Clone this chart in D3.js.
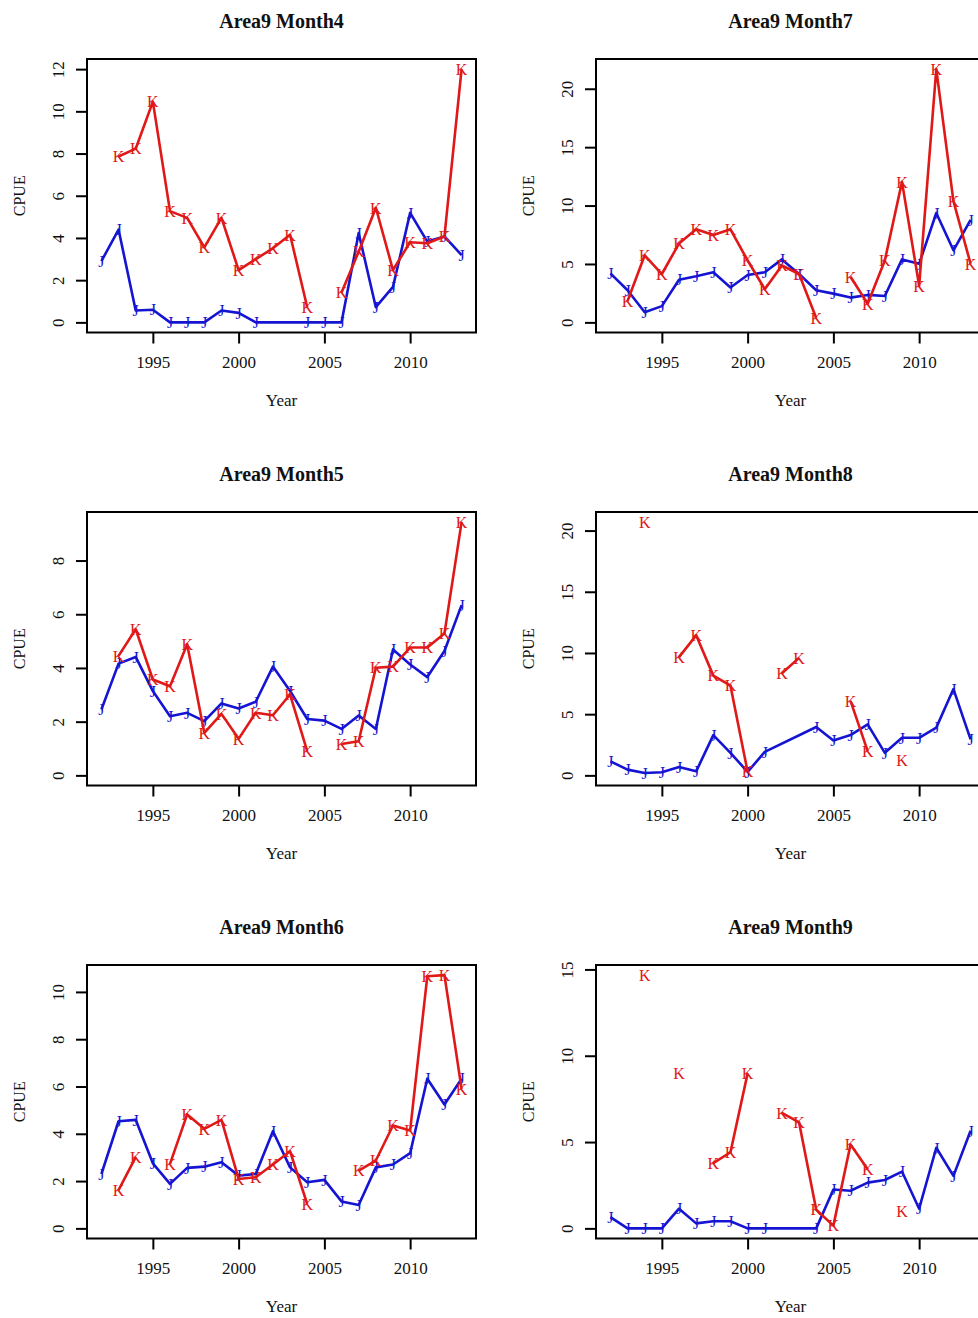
<!DOCTYPE html>
<html lang="en">
<head>
<meta charset="UTF-8">
<script src="https://d3js.org/d3.v7.min.js"></script>
<title>Area9 CPUE</title>
<style>
  body { margin: 0; background: #fff; }
  text { font-family: "Liberation Serif", "DejaVu Serif", serif; }
</style>
</head>
<body>
<div id="canvas"></div>
<script>
// years on the x axis
const years = [1992,1993,1994,1995,1996,1997,1998,1999,2000,2001,2002,2003,2004,2005,2006,2007,2008,2009,2010,2011,2012,2013];

// panel titles, in reading order (left col / right col)
const titles = ["Area9 Month4","Area9 Month7","Area9 Month5","Area9 Month8","Area9 Month6","Area9 Month9"];

// J series (blue): null = year not in data, line joins across it
// K series (red): null = NA, line breaks there
const m4J = [2.9,4.4,0.56,0.6,0,0,0,0.56,0.45,0,null,null,0,0,0,4.23,0.72,1.68,5.19,3.83,4.07,3.19];
const m4K = [null,7.86,8.23,10.46,5.27,4.95,3.55,4.95,2.48,3.0,3.51,4.15,0.72,null,1.41,3.35,5.43,2.48,3.8,3.75,4.07,12.0];

const m7J = [4.2,2.75,0.87,1.39,3.65,3.94,4.29,2.99,4.06,4.29,5.39,4.14,2.75,2.46,2.12,2.35,2.26,5.39,5.01,9.36,6.17,8.78];
const m7K = [null,1.83,5.74,4.14,6.75,7.97,7.48,7.97,5.3,2.84,4.87,4.14,0.38,null,3.9,1.59,5.3,12.03,3.13,21.68,10.38,5.01];

const m5J = [2.45,4.16,4.41,3.14,2.2,2.33,2.02,2.68,2.49,2.74,4.05,3.14,2.1,2.04,1.73,2.23,1.73,4.69,4.13,3.66,4.63,6.34];
const m5K = [null,4.45,5.44,3.57,3.32,4.88,1.58,2.29,1.36,2.33,2.24,3.01,0.9,null,1.17,1.27,4.01,4.05,4.76,4.76,5.28,9.43];

const m8J = [1.15,0.47,0.19,0.25,0.69,0.33,3.29,1.84,0.28,1.92,null,null,3.95,2.85,3.29,4.17,1.84,3.07,3.07,3.9,7.05,2.94];
const m8K = [null,null,20.69,null,9.66,11.44,8.15,7.33,0.3,null,8.34,9.6,null,null,6.09,1.98,null,1.21,null,null,null,null];

const m6J = [2.3,4.53,4.59,2.75,1.88,2.56,2.61,2.8,2.23,2.3,4.11,2.58,1.95,2.05,1.14,0.99,2.58,2.7,3.18,6.33,5.24,6.33];
const m6K = [null,1.62,3.01,null,2.73,4.82,4.21,4.59,2.09,2.16,2.7,3.26,1.03,null,null,2.44,2.87,4.35,4.14,10.66,10.71,5.9];

const m9J = [0.65,0,0,0,1.14,0.29,0.41,0.41,0,0,null,null,0,2.25,2.18,2.65,2.8,3.29,1.14,4.67,3.04,5.65];
const m9K = [null,null,14.67,null,8.98,null,3.78,4.41,8.98,null,6.69,6.14,1.08,0.16,4.86,3.43,null,1.0,null,null,null,null];

const seriesJ = [m4J,m7J,m5J,m8J,m6J,m9J];
const seriesK = [m4K,m7K,m5K,m8K,m6K,m9K];

const W = 978, H = 1318;
const colStep = 509, rowStep = 453;
const box = {left: 87, right: 476, top: 59, bottom: 332.5};
const blue = "#1414d2", red = "#e01818";

const svg = d3.select("#canvas").append("svg").attr("width", W).attr("height", H);

// R style 4% padding on both ends
function pad(lo, hi) { const d = (hi - lo) * 0.04; return [lo - d, hi + d]; }

titles.forEach(function(title, i) {
  const col = i % 2, row = Math.floor(i / 2);
  const g = svg.append("g").attr("transform", "translate(" + (col*colStep) + "," + (row*rowStep) + ")");
  const J = seriesJ[i], K = seriesK[i];

  const ymax = d3.max(J.concat(K));
  const x = d3.scaleLinear().domain(pad(years[0], years[years.length-1])).range([box.left, box.right]);
  const y = d3.scaleLinear().domain(pad(0, ymax)).range([box.bottom, box.top]);

  // axes
  const xa = g.append("g").attr("transform", "translate(0," + box.bottom + ")")
    .call(d3.axisBottom(x).tickValues([1995,2000,2005,2010]).tickFormat(d3.format("d")).tickSize(11).tickPadding(12));
  const ya = g.append("g").attr("transform", "translate(" + box.left + ",0)")
    .call(d3.axisLeft(y).ticks(5).tickSize(11));
  [xa, ya].forEach(function(a) {
    a.select(".domain").remove();
    a.selectAll(".tick line").attr("stroke", "#000").attr("stroke-width", 2);
    a.selectAll(".tick text").attr("fill", "#111").style("font-size", "17px");
  });
  xa.selectAll(".tick text").attr("dy", "0.71em");
  ya.selectAll(".tick text")
    .attr("text-anchor", "middle")
    .attr("x", null).attr("dy", null)
    .attr("transform", "translate(-23,0) rotate(-90)");

  // data lines
  const lineJ = d3.line().x(d => x(d.yr)).y(d => y(d.v));
  const lineK = d3.line().defined(d => d.v !== null).x(d => x(d.yr)).y(d => y(d.v));
  const ptsJ = years.map((yr, k) => ({yr: yr, v: J[k]})).filter(d => d.v !== null);
  const ptsK = years.map((yr, k) => ({yr: yr, v: K[k]}));

  g.append("path").datum(ptsJ).attr("d", lineJ)
    .attr("fill", "none").attr("stroke", blue).attr("stroke-width", 2.6).attr("stroke-linejoin", "round");
  g.selectAll(".ptJ").data(ptsJ).enter().append("text")
    .attr("x", d => x(d.yr)).attr("y", d => y(d.v)).attr("dy", "0.36em")
    .attr("text-anchor", "middle").attr("fill", blue).style("font-size", "16px").text("J");

  g.append("path").datum(ptsK).attr("d", lineK)
    .attr("fill", "none").attr("stroke", red).attr("stroke-width", 2.6).attr("stroke-linejoin", "round");
  g.selectAll(".ptK").data(ptsK.filter(d => d.v !== null)).enter().append("text")
    .attr("x", d => x(d.yr)).attr("y", d => y(d.v)).attr("dy", "0.36em")
    .attr("text-anchor", "middle").attr("fill", red).style("font-size", "16px").text("K");

  // plot box
  g.append("rect").attr("x", box.left).attr("y", box.top)
    .attr("width", box.right - box.left).attr("height", box.bottom - box.top)
    .attr("fill", "none").attr("stroke", "#000").attr("stroke-width", 2);

  // labels
  const cx = (box.left + box.right) / 2;
  g.append("text").attr("x", cx).attr("y", 28).attr("text-anchor", "middle")
    .style("font-size", "20px").style("font-weight", "bold").attr("fill", "#111").text(title);
  g.append("text").attr("x", cx).attr("y", 406).attr("text-anchor", "middle")
    .style("font-size", "17px").attr("fill", "#111").text("Year");
  g.append("text").attr("transform", "translate(25," + ((box.top + box.bottom) / 2) + ") rotate(-90)")
    .attr("text-anchor", "middle").style("font-size", "16px").attr("fill", "#111").text("CPUE");
});
</script>
</body>
</html>
